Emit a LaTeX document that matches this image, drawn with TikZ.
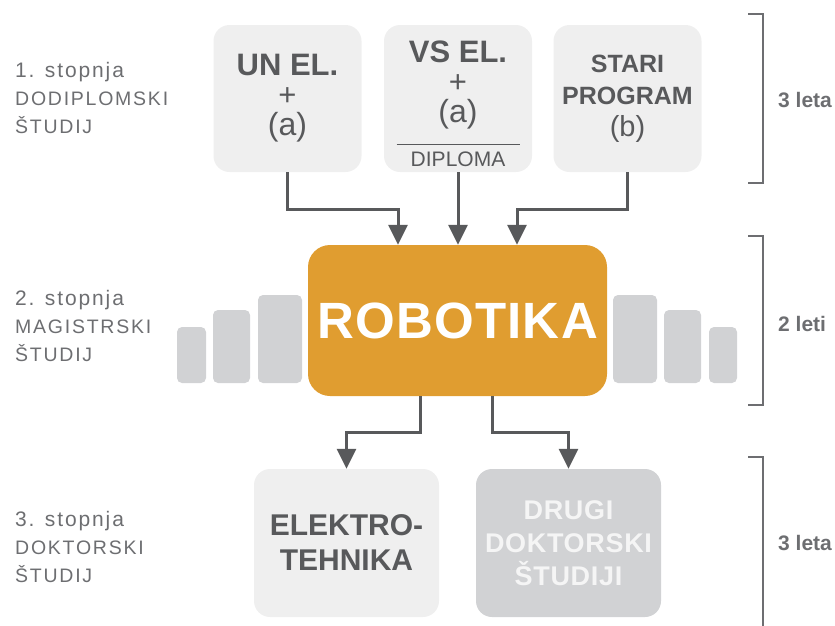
\documentclass[tikz,border=0pt]{standalone}
\usepackage{fontspec}
\setmainfont{Liberation Sans}
\newfontfamily\lblfont[LetterSpace=9]{Liberation Sans}
\newfontfamily\widefont[LetterSpace=2.5]{Liberation Sans}
\usetikzlibrary{arrows.meta}

\definecolor{boxgray}{HTML}{EFEFEF}
\definecolor{bargray}{HTML}{D1D2D4}
\definecolor{robo}{HTML}{E09D30}
\definecolor{txtgray}{HTML}{58595B}
\definecolor{lblgray}{HTML}{6D6E71}
\definecolor{brgray}{HTML}{6D6E71}

\tikzset{
	stagebox/.style={rounded corners=16pt, inner sep=0pt, align=center, text=txtgray},
	topbox/.style={stagebox, fill=boxgray, minimum width=148pt, minimum height=147pt, font=\fontsize{31}{30}\selectfont},
	botbox/.style={stagebox, minimum width=185pt, minimum height=148pt},
	level/.style={anchor=north west, inner sep=0pt, align=left, text=lblgray, font=\lblfont\fontsize{19.5}{28}\selectfont},
	years/.style={anchor=west, inner sep=0pt, text=lblgray, font=\bfseries\fontsize{21}{21}\selectfont},
	bracket/.style={draw=brgray, line width=2.5pt},
	bar/.style={fill=bargray, rounded corners=5pt},
	flow/.style={draw=txtgray, line width=3pt, -{Triangle[width=19pt,length=20pt]}}
}

\begin{document}
\begin{tikzpicture}[x=1pt, y=-1pt]
	%%%%% START %%%%%
	\useasboundingbox (0,0) rectangle (835,625);
	
	% levels on the left
	\node[level] (lev1) at (15,62) {{\fontsize{21}{28}\selectfont 1. stopnja}\\DODIPLOMSKI\\ŠTUDIJ};
	\node[level] (lev2) at (15,290) {{\fontsize{21}{28}\selectfont 2. stopnja}\\MAGISTRSKI\\ŠTUDIJ};
	\node[level] (lev3) at (15,511) {{\fontsize{21}{28}\selectfont 3. stopnja}\\DOKTORSKI\\ŠTUDIJ};
	
	% first level
	\node[topbox] (unel) at (287.5,98.5) {\bfseries UN EL.\\+\\{\fontsize{32}{30}\selectfont(a)}};
	\node[topbox] (vsel) at (458,98.5) {\rule{0pt}{33pt}\bfseries VS EL.\\+\\{\fontsize{32}{30}\selectfont(a)}\\[-8pt]\rule{123pt}{1.3pt}\\[-8pt]{\fontsize{21}{22}\selectfont DIPLOMA}};
	\node[topbox, font=\fontsize{25}{32}\selectfont] (stari) at (627.5,98.5) {\bfseries STARI\\\bfseries PROGRAM\\{\fontsize{29}{32}\selectfont(b)}};
	
	% second level
	\fill[bar] (177,327) rectangle (206,383);
	\fill[bar] (213,310) rectangle (250,383);
	\fill[bar] (258,295) rectangle (302,383);
	\fill[bar] (613,295) rectangle (657,383);
	\fill[bar] (664,310) rectangle (701,383);
	\fill[bar] (709,327) rectangle (737,383);
	\node[stagebox, fill=robo, rounded corners=22pt, minimum width=299pt, minimum height=151pt, text=white, font=\widefont\bfseries\fontsize{51}{51}\selectfont] (rob) at (457.5,320.5) {ROBOTIKA};
	
	% third level
	\node[botbox, fill=boxgray, font=\bfseries\fontsize{30}{35}\selectfont] (elek) at (346.5,543) {ELEKTRO-\\TEHNIKA};
	\node[botbox, fill=bargray, text=white!96!black, font=\widefont\bfseries\fontsize{27}{33}\selectfont] (drugi) at (568.5,543) {DRUGI\\DOKTORSKI\\ŠTUDIJI};
	
	% connectors
	\draw[flow] (unel.south) -- ++(0,37) -| ([xshift=-59.5pt]rob.north);
	\draw[flow] (vsel.south) -- (vsel.south |- rob.north);
	\draw[flow] (stari.south) -- ++(0,37) -| ([xshift=59.5pt]rob.north);
	\draw[flow] ([xshift=-37.5pt]rob.south) -- ++(0,36) -| (elek.north);
	\draw[flow] ([xshift=34.5pt]rob.south) -- ++(0,36) -| (drugi.north);
	
	% duration brackets
	\draw[bracket] (748,14) -- (763,14) -- (763,183) -- (748,183);
	\draw[bracket] (748,236) -- (763,236) -- (763,405) -- (748,405);
	\draw[bracket] (748,457) -- (763,457) -- (763,630);
	\node[years] (yr1) at (778,100) {3 leta};
	\node[years] (yr2) at (778,324) {2 leti};
	\node[years] (yr3) at (778,543) {3 leta};
	
	%%%%% END %%%%%
\end{tikzpicture}
\end{document}
